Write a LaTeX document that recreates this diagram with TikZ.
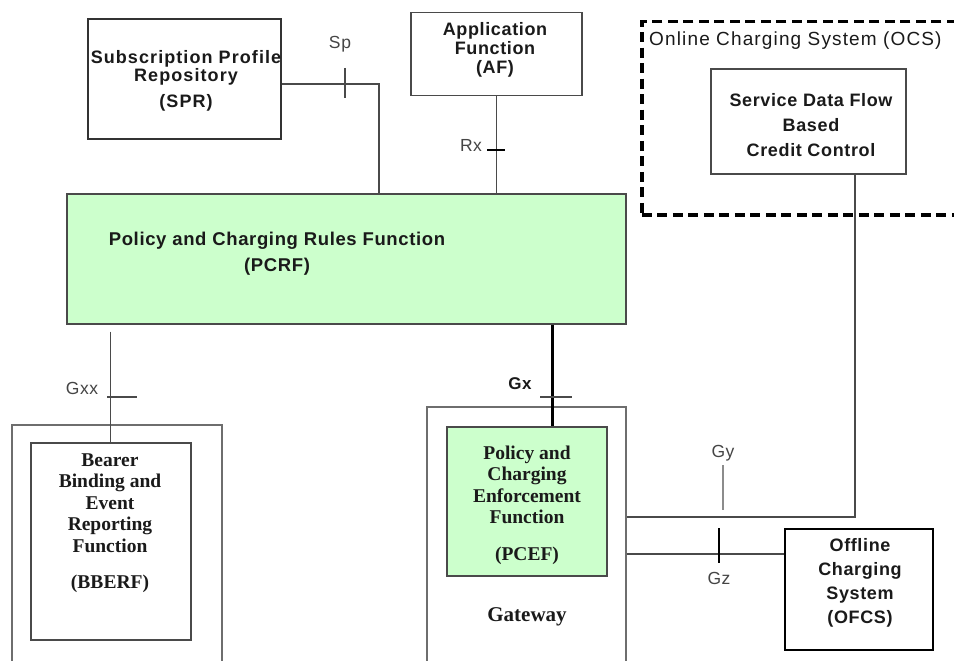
\documentclass[tikz,border=0pt]{standalone}
\usepackage{fontspec}
\setmainfont{Liberation Serif}
\setsansfont{Liberation Sans}
\newfontfamily\sfls[LetterSpace=3.5]{Liberation Sans}
\newfontfamily\sflw[LetterSpace=6]{Liberation Sans}
\definecolor{pgreen}{HTML}{CCFFCC}
\definecolor{edge}{HTML}{4A4A4A}
\definecolor{lbl}{HTML}{454545}
\definecolor{ink}{HTML}{1A1A1A}
\tikzset{
  box/.style={draw=edge, line width=1.5pt, inner sep=0pt, anchor=north west},
  gbox/.style={box, fill=pgreen},
  conn/.style={draw=edge, line width=1.4pt},
  tick/.style={draw=edge, line width=1.2pt},
  sfb/.style={font=\sfls\bfseries\fontsize{18}{19}\selectfont, align=center, text=ink, inner sep=0pt},
  tmb/.style={font=\rmfamily\bfseries\fontsize{19.5}{21.5}\selectfont, align=center, text=ink, inner sep=0pt},
  lab/.style={font=\sfls\fontsize{17.5}{19}\selectfont, text=lbl, inner sep=0pt},
  ocsbox/.style={draw=black, line width=3.5pt, dash pattern=on 10pt off 5.5pt, inner sep=0pt, anchor=north west}
}
\begin{document}
\begin{tikzpicture}[x=1pt,y=-1pt]
\useasboundingbox (0,0) rectangle (954,661);
\fill[white] (0,0) rectangle (954,661);

% boxes
\node[box, line width=2pt, draw=black!80, minimum width=193pt, minimum height=120pt] (spr) at (87,18) {};
\node[box, minimum width=171pt, minimum height=83pt] (af) at (410,12) {};
\node[ocsbox, minimum width=340pt, minimum height=193pt] (ocs) at (640,20) {};
\node[box, line width=2pt, minimum width=195pt, minimum height=105pt] (sdf) at (710,68) {};
\node[gbox, minimum width=559pt, minimum height=130pt] (pcrf) at (66,193) {};
\node[box, draw=edge!80, minimum width=210pt, minimum height=260pt] (bbo) at (11,424) {};
\node[box, minimum width=160pt, minimum height=197pt] (bbi) at (30,442) {};
\node[box, draw=edge!80, minimum width=199pt, minimum height=270pt] (gw) at (426,406) {};
\node[gbox, minimum width=160pt, minimum height=149pt] (pcef) at (446,426) {};
\node[box, line width=2pt, draw=black, minimum width=148pt, minimum height=121pt] (ofcs) at (784,528) {};

% texts
\node[sfb, font=\sflw\bfseries\fontsize{18}{16}\selectfont] (sprt) at (186,81) {Subscription Profile\\ Repository\\[9pt](SPR)};
\node[sfb] (aft) at (495,50) {Application\\Function\\(AF)};
\node[lab, font=\sflw\fontsize{19}{21}\selectfont, anchor=west, text=ink] (ocst) at (649,41) {Online Charging System (OCS)};
\node[sfb, font=\sfls\bfseries\fontsize{18}{25}\selectfont] (sdft) at (811,125) {Service Data Flow\\Based\\Credit Control};
\node[sfb, font=\sfls\bfseries\fontsize{18.5}{26}\selectfont] (pcrft) at (277,254) {Policy and Charging Rules Function\\(PCRF)};
\node[tmb] (bbt) at (110,523) {Bearer\\Binding and\\Event\\Reporting\\Function\\[15pt](BBERF)};
\node[tmb] (pcet) at (527,505) {Policy and\\Charging\\Enforcement\\Function\\[15pt](PCEF)};
\node[tmb, font=\rmfamily\bfseries\fontsize{21}{22}\selectfont] (gwt) at (527,617) {Gateway};
\node[sfb, font=\sfls\bfseries\fontsize{18}{24}\selectfont] (oft) at (860,583) {Offline\\Charging\\System\\(OFCS)};

% interface labels
\node[lab] (spl) at (340,44) {Sp};
\node[lab] (rxl) at (471,145) {Rx};
\node[lab] (gxxl) at (82,388) {Gxx};
\node[lab, font=\sfls\bfseries\fontsize{17}{19}\selectfont, text=ink] (gxl) at (520,384) {Gx};
\node[lab] (gyl) at (723,453) {Gy};
\node[lab] (gzl) at (719,578) {Gz};

% connectors
\coordinate (spc) at (379,84);
\draw[conn] (spr.east |- spc) -- (spc) -- (spc |- pcrf.north);
\draw[conn] (af.south) -- (af.south |- pcrf.north);
\draw[conn, shorten <=7pt] (bbi.north |- pcrf.south) -- (bbi.north);
\coordinate (gxc) at (552,0);
\draw[line width=3pt, black] (pcrf.south -| gxc) -- (pcef.north -| gxc);
\coordinate (gyc) at (855,517);
\draw[conn] (sdf.south -| gyc) -- (gyc) -- (gw.east |- gyc);
\coordinate (gzc) at (0,554);
\draw[conn] (gw.east |- gzc) -- (ofcs.west |- gzc);

% interface ticks
\draw[tick] (345,68) -- (345,98);
\draw[tick, black] (487,150) -- (505,150);
\draw[tick] (107,397) -- (137,397);
\draw[tick] (540,397) -- (572,397);
\draw[tick, line width=2pt, draw=black!45] (723,465) -- (723,510);
\draw[tick, line width=1.8pt, draw=black] (719,528) -- (719,563);
\end{tikzpicture}
\end{document}
